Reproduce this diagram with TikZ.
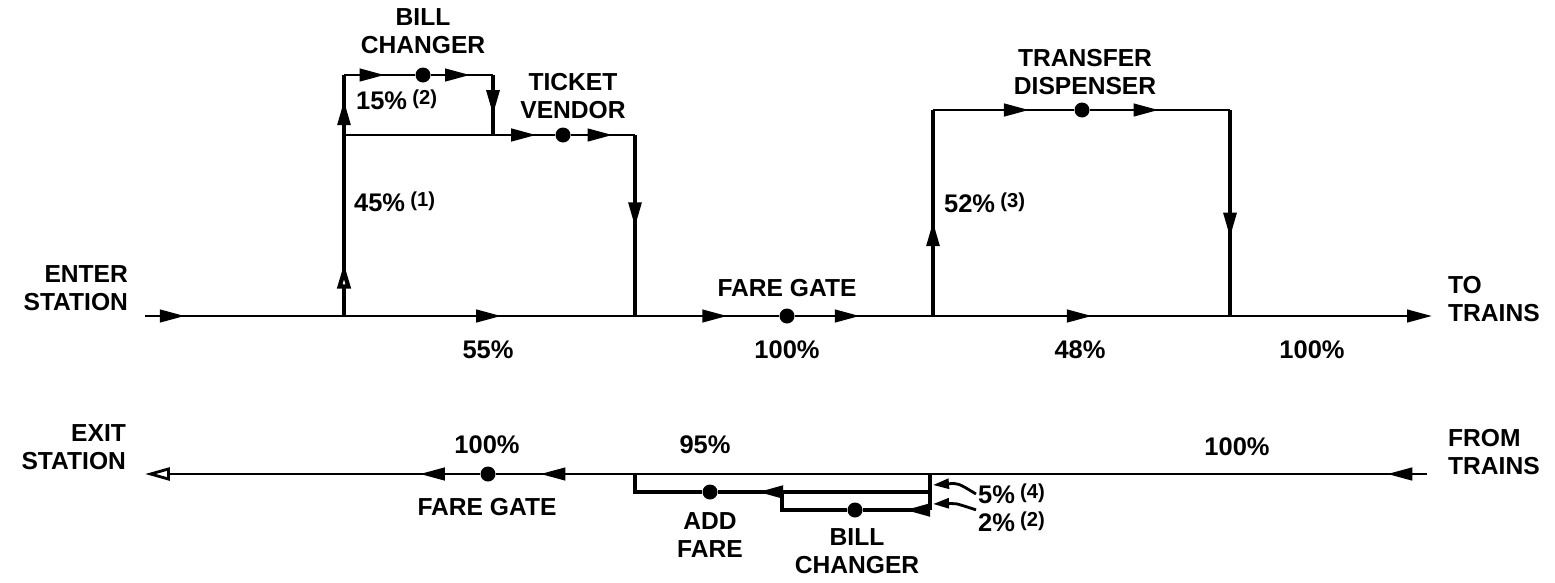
\documentclass[tikz,border=0pt]{standalone}
\usepackage{fontspec}
\setmainfont{Liberation Sans}
\usetikzlibrary{arrows.meta,decorations.markings}

\newcommand{\srcnote}[1]{\hspace{3pt}{\fontsize{11.5}{13}\selectfont\raisebox{3pt}{(#1)}}}

\tikzset{
  pline/.style={line width=1.6pt},
  vline/.style={line width=2.4pt},
  stn/.style={circle, fill=black, inner sep=0pt, minimum size=0.3cm},
  lbl/.style={font=\bfseries\fontsize{14}{16}\selectfont, align=center, inner sep=1pt},
  pct/.style={font=\bfseries\fontsize{14.5}{16}\selectfont, inner sep=1pt},
  fwd/.style={postaction={decorate}, decoration={markings,
      mark=at position #1 with {\arrow{Triangle[length=0.5cm,width=0.25cm]}}}},
  fwdopen/.style={postaction={decorate}, decoration={markings,
      mark=at position #1 with {\arrow{Triangle[open,length=0.5cm,width=0.26cm,fill=white]}}}},
  endtip/.style={-{Triangle[length=0.5cm,width=0.25cm]}},
}

\begin{document}
\begin{tikzpicture}[x=0.02cm,y=-0.02cm]
\useasboundingbox (0,0) rectangle (1555,582);

% entering side
\coordinate (in) at (145,316);
\coordinate (b1) at (344,316);
\coordinate (b2) at (635,316);
\node[stn] (fg) at (787,316) {};
\coordinate (t1) at (933,316);
\coordinate (t2) at (1230,316);
\coordinate (out) at (1432,316);

% ticket loop
\coordinate (c1) at (344,135);
\coordinate (c2) at (344,75);
\node[stn] (bc) at (423,75) {};
\coordinate (c3) at (493,75);
\coordinate (c4) at (493,135);
\node[stn] (tv) at (563,135) {};
\coordinate (c5) at (635,135);

% transfer loop
\coordinate (d1) at (933,110);
\node[stn] (td) at (1082,110) {};
\coordinate (d2) at (1230,110);

% exiting side
\coordinate (ft) at (1427,474);
\coordinate (j1) at (930,474);
\coordinate (a1) at (635,474);
\node[stn] (fg2) at (488,474) {};
\coordinate (ex) at (145,474);
\coordinate (j2) at (930,492);
\coordinate (j3) at (930,510);
\coordinate (a2) at (635,492);
\node[stn] (af) at (710,492) {};
\coordinate (bx) at (782,492);
\coordinate (bx2) at (782,510);
\node[stn] (bc2) at (855,510) {};

% main line in
\draw[pline, fwd=0.2] (in) -- (b1);
\draw[pline, fwd=0.54] (b1) -- (b2);
\draw[pline, fwd=0.64] (b2) -- (fg);
\draw[pline, fwd=0.47] (fg) -- (t1);
\draw[pline, fwd=0.535] (t1) -- (t2);
\draw[pline, endtip] (t2) -- (out);

% ticket and bill changer
\draw[vline, fwdopen=0.29] (b1) -- (c1);
\draw[vline, fwd=0.58] (c1) -- (c2);
\draw[pline, fwd=0.57] (c2) -- (bc);
\draw[pline, fwd=0.63] (bc) -- (c3);
\draw[vline, fwd=0.67] (c3) -- (c4);
\draw[pline, fwd=0.91] (c1) -- (tv);
\draw[pline, fwd=0.65] (tv) -- (c5);
\draw[vline, fwd=0.51] (c5) -- (b2);

% transfer dispenser
\draw[vline, fwd=0.46] (t1) -- (d1);
\draw[pline, fwd=0.68] (d1) -- (td);
\draw[pline, fwd=0.49] (td) -- (d2);
\draw[vline, fwd=0.62] (d2) -- (t2);

% main line out
\draw[pline, fwd=0.08] (ft) -- (j1);
\draw[pline] (j1) -- (a1);
\draw[pline, fwd=0.68] (a1) -- (fg2);
\draw[pline, fwd=0.18, -{Triangle[open,length=0.5cm,width=0.26cm,fill=white]}] (fg2) -- (ex);

% add fare loop
\draw[vline] (j1) -- (j3);
\draw[line width=2pt, fwd=0.81] (j2) -- (af);
\draw[line width=2pt] (af) -- (a2) -- (a1);
\draw[line width=2pt, fwd=0.37] (j3) -- (bc2);
\draw[line width=2pt] (bc2) -- (bx2) -- (bx);

% labels
\node[lbl, anchor=east, align=right] (enter) at (130,288) {ENTER\\STATION};
\node[lbl, anchor=west, align=left] (totr) at (1446,299) {TO\\TRAINS};
\node[lbl, anchor=east, align=right] (exit) at (128,447) {EXIT\\STATION};
\node[lbl, anchor=west, align=left] (fromtr) at (1446,452) {FROM\\TRAINS};
\node[lbl] (bcl) at (423,31) {BILL\\CHANGER};
\node[lbl] (tvl) at (573,96) {TICKET\\VENDOR};
\node[lbl] (tdl) at (1085,72) {TRANSFER\\DISPENSER};
\node[lbl] (fgl) at (787,288) {FARE GATE};
\node[lbl] (fg2l) at (487,507) {FARE GATE};
\node[lbl] (afl) at (710,535) {ADD\\FARE};
\node[lbl] (bc2l) at (857,551) {BILL\\CHANGER};

% shares
\node[pct, anchor=west] (p15) at (354,100) {15\%\srcnote{2}};
\node[pct, anchor=west] (p45) at (352,202) {45\%\srcnote{1}};
\node[pct, anchor=west] (p52) at (942,203) {52\%\srcnote{3}};
\node[pct] (p55) at (488,350) {55\%};
\node[pct] (p100a) at (787,350) {100\%};
\node[pct] (p48) at (1080,350) {48\%};
\node[pct] (p100b) at (1312,350) {100\%};
\node[pct] (p100c) at (487,445) {100\%};
\node[pct] (p95) at (705,445) {95\%};
\node[pct] (p100d) at (1237,447) {100\%};
\node[pct, anchor=west] (p5) at (976,494) {5\%\srcnote{4}};
\node[pct, anchor=west] (p2) at (976,522) {2\%\srcnote{2}};

% leaders to junction
\draw[pline, -{Triangle[length=0.32cm,width=0.2cm]}] (p5.west) .. controls (958,483) .. (933,485);
\draw[pline, -{Triangle[length=0.32cm,width=0.2cm]}] (p2.north west) .. controls (955,503) .. (933,504);
\end{tikzpicture}
\end{document}
